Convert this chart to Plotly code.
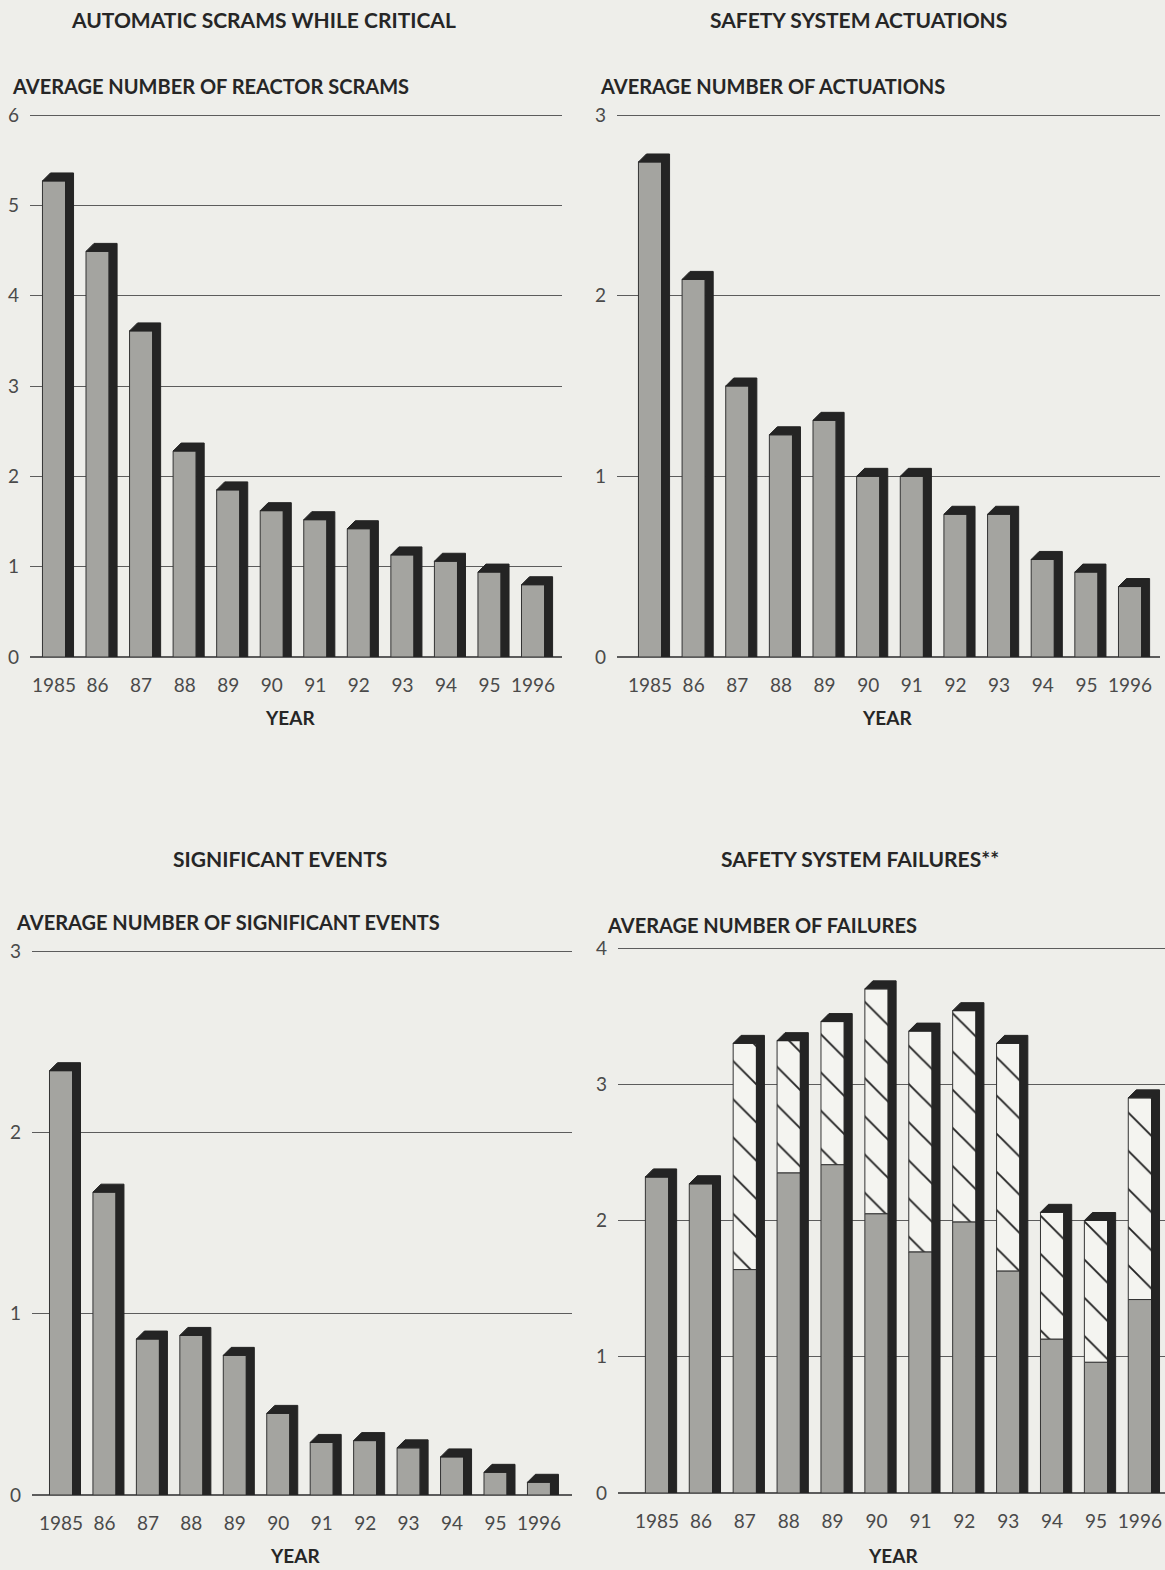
import plotly.graph_objects as go

W, H = 1165, 1570

# ---- data -------------------------------------------------------------
years = ["1985", "86", "87", "88", "89", "90", "91", "92", "93", "94", "95", "1996"]

scrams = [5.27, 4.49, 3.61, 2.28, 1.85, 1.62, 1.52, 1.42, 1.13, 1.06, 0.94, 0.80]
actuations = [2.74, 2.09, 1.50, 1.23, 1.31, 1.00, 1.00, 0.79, 0.79, 0.54, 0.47, 0.39]
sig_events = [2.34, 1.67, 0.86, 0.88, 0.77, 0.45, 0.29, 0.30, 0.26, 0.21, 0.125, 0.07]
failures_shaded = [2.32, 2.27, 1.64, 2.35, 2.41, 2.05, 1.77, 1.99, 1.63, 1.13, 0.96, 1.42]
failures_total = [2.32, 2.27, 3.30, 3.32, 3.46, 3.70, 3.39, 3.54, 3.30, 2.06, 2.00, 2.90]

# ---- style ------------------------------------------------------------
PAPER = "#eeeeea"
FACE = "#a4a4a0"
DARK = "#242424"
GRID = "#5c5c5c"
HATCH_BG = "#f4f4f0"
TICK_FONT = dict(family="Lato, 'Open Sans', sans-serif", size=19, color="#4a4a4a")
HEAD_FONT = dict(family="Lato, sans-serif", size=21, color="#262626", weight="bold")
SUB_FONT = dict(family="Lato, sans-serif", size=20, color="#262626", weight="bold")
YEAR_FONT = dict(family="Lato, sans-serif", size=19, color="#262626", weight="bold")

BAR_W = 0.53        # front face width, in category units
DEPTH_PX = 8        # 3-D extrusion depth in pixels


def xf(px):
    return px / W


def yf(py):
    return 1 - py / H


# panel geometry in page pixels: left, right, baseline, top of axis
panels = [
    dict(n=1, title="AUTOMATIC SCRAMS WHILE CRITICAL", sub="AVERAGE NUMBER OF REACTOR SCRAMS",
         box=(30, 562, 657, 115), ymax=6, first=54, step=43.55,
         title_xy=(263, 20), sub_xy=(10, 86), year_xy=(290, 717)),
    dict(n=2, title="SAFETY SYSTEM ACTUATIONS", sub="AVERAGE NUMBER OF ACTUATIONS",
         box=(617, 1160, 657, 115), ymax=3, first=650, step=43.64,
         title_xy=(858, 20), sub_xy=(598, 86), year_xy=(887, 717)),
    dict(n=3, title="SIGNIFICANT EVENTS", sub="AVERAGE NUMBER OF SIGNIFICANT EVENTS",
         box=(32, 572, 1495, 951), ymax=3, first=61, step=43.45,
         title_xy=(280, 858), sub_xy=(14, 922), year_xy=(295, 1555)),
    dict(n=4, title="SAFETY SYSTEM FAILURES**", sub="AVERAGE NUMBER OF FAILURES",
         box=(618, 1165, 1493, 948), ymax=4, first=657, step=43.9,
         title_xy=(860, 858), sub_xy=(605, 925), year_xy=(893, 1555)),
]

fig = go.Figure()
idx = list(range(len(years)))


def extrusion(values, p):
    """Dark top and right side of each 3-D bar, as filled polygons."""
    left, right, base, top = p["box"]
    dx = DEPTH_PX / p["step"]
    dy = DEPTH_PX * p["ymax"] / (base - top)
    xs, ys = [], []
    for i, v in zip(idx, values):
        xl, xr = i - BAR_W / 2, i + BAR_W / 2
        xs += [xl, xl + dx, xr + dx, xr + dx, xr, xr, xl, None]
        ys += [v, v + dy, v + dy, 0, 0, v, v, None]
    return go.Scatter(x=xs, y=ys, mode="lines", fill="toself", fillcolor=DARK,
                      line=dict(color=DARK, width=1), hoverinfo="skip",
                      showlegend=False)


for p in panels:
    n = p["n"]
    ax = "" if n == 1 else str(n)
    xa, ya = "x" + ax, "y" + ax
    left, right, base, top = p["box"]

    if n == 4:
        tops = failures_total
        fig.add_trace(go.Bar(x=idx, y=failures_shaded, width=BAR_W, xaxis=xa, yaxis=ya,
                             marker=dict(color=FACE, line=dict(color="#333", width=1)),
                             showlegend=False))
        fig.add_trace(go.Bar(x=idx, y=[t - s for t, s in zip(failures_total, failures_shaded)],
                             base=failures_shaded, width=BAR_W, xaxis=xa, yaxis=ya,
                             marker=dict(color=HATCH_BG, line=dict(color="#333", width=1),
                                         pattern=dict(shape="\\", size=27, solidity=0.07,
                                                      fgcolor="#222", bgcolor=HATCH_BG,
                                                      fillmode="replace")),
                             showlegend=False))
    else:
        tops = {1: scrams, 2: actuations, 3: sig_events}[n]
        fig.add_trace(go.Bar(x=idx, y=tops, width=BAR_W, xaxis=xa, yaxis=ya,
                             marker=dict(color=FACE, line=dict(color="#333", width=1)),
                             showlegend=False))
    ext = extrusion(tops, p)
    ext.update(xaxis=xa, yaxis=ya)
    fig.add_trace(ext)

    x0 = (left - p["first"]) / p["step"]
    x1 = (right - p["first"]) / p["step"]
    # extend the value range by two pixels so the top gridline is drawn
    pad_px = 2
    ytop = p["ymax"] * (1 + pad_px / (base - top))
    fig.update_layout(**{
        ("xaxis" + ax): dict(domain=[xf(left), xf(right)], range=[x0, x1],
                             tickvals=idx, ticktext=years, tickfont=TICK_FONT,
                             showgrid=False, zeroline=False, showline=False,
                             ticks="", ticklabelstandoff=15, anchor=ya,
                             automargin=False),
        ("yaxis" + ax): dict(domain=[yf(base), yf(top - pad_px)], range=[0, ytop],
                             dtick=1, tick0=0, tickfont=TICK_FONT,
                             showgrid=True, gridcolor=GRID, gridwidth=1.4,
                             zeroline=True, zerolinecolor=GRID, zerolinewidth=1.7,
                             showline=False, ticks="", ticklabelstandoff=10, anchor=xa,
                             automargin=False),
    })

    tx, ty = p["title_xy"]
    sx, sy = p["sub_xy"]
    yx, yy = p["year_xy"]
    fig.add_annotation(text=p["title"], x=xf(tx), y=yf(ty), xref="paper", yref="paper",
                       xanchor="center", yanchor="middle", showarrow=False, font=HEAD_FONT)
    fig.add_annotation(text=p["sub"], x=xf(sx), y=yf(sy), xref="paper", yref="paper",
                       xanchor="left", yanchor="middle", showarrow=False, font=SUB_FONT)
    fig.add_annotation(text="YEAR", x=xf(yx), y=yf(yy), xref="paper", yref="paper",
                       xanchor="center", yanchor="middle", showarrow=False, font=YEAR_FONT)

fig.update_layout(width=W, height=H,
                  margin=dict(l=0, r=0, t=0, b=0, pad=0, autoexpand=False),
                  paper_bgcolor=PAPER, plot_bgcolor=PAPER, barmode="overlay",
                  showlegend=False)

fig.write_html("out.html")
